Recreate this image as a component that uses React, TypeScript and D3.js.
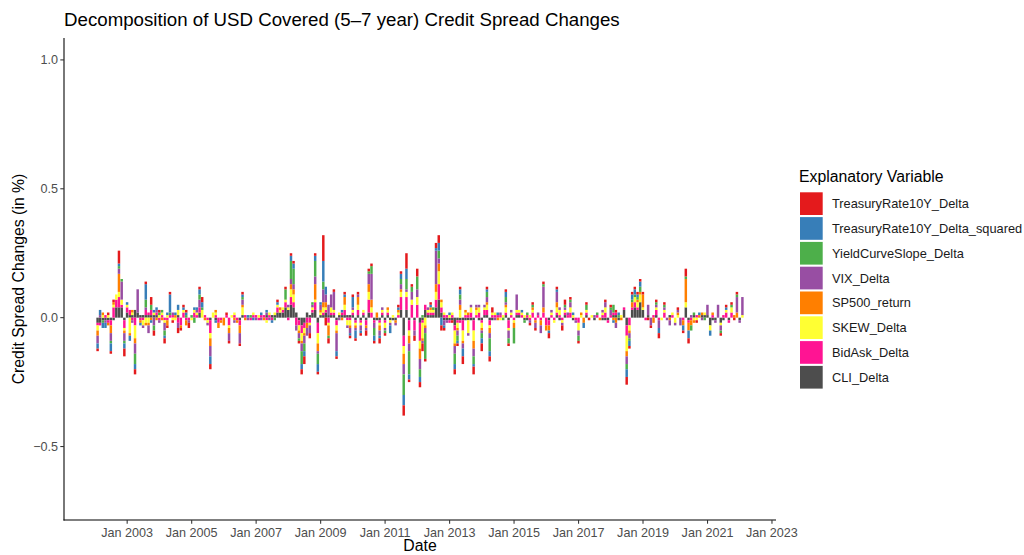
import React from "react";
import * as d3 from "d3";

// Monthly observations, Jan 2002 .. Jan 2022 (one row of 12 per year)
const startYear = 2002;
const startMonth = 0;

// Contributions in hundredths of a percentage point (bp)
const trBp = [
  -1,0,0,0,1,-1,1,0,5,0,-3,0,
  0,0,-2,0,0,0,1,0,3,-2,0,1,
  0,-2,-1,1,-1,0,-2,-1,1,1,-2,0,
  0,0,1,2,0,0,-2,0,0,0,0,0,
  1,-1,0,0,0,-1,1,0,0,0,0,0,
  0,0,0,0,0,0,0,1,0,0,1,0,
  1,1,0,-1,-2,-3,0,-2,0,1,-1,0,
  10,-3,-2,0,1,-1,0,0,1,0,-1,1,
  -1,1,-1,0,-2,1,1,-1,0,-2,0,-1,
  0,0,0,0,1,1,-4,6,-1,1,-2,3,
  -2,-3,-1,0,1,0,2,3,-2,-1,0,0,
  -1,-2,-1,1,-3,0,0,0,-3,0,0,-3,
  0,1,-2,2,0,0,0,0,1,-1,0,0,
  0,0,0,0,0,-1,1,-1,0,0,1,0,
  -2,0,0,1,0,-2,2,0,1,0,0,-1,
  0,0,1,-1,0,0,0,0,0,1,0,1,
  0,1,0,0,0,-3,-1,1,1,1,1,1,
  0,-1,-1,0,1,-2,0,1,0,0,0,0,
  1,0,-1,3,-2,0,0,-1,0,0,0,0,
  0,0,0,0,-1,0,1,0,1,-1,1,0,
  0,
];
const trSqBp = [
  -2,2,-2,-2,0,-3,0,0,1,0,-2,1,
  -2,0,-2,0,-1,0,6,0,-1,1,1,0,
  0,-1,1,7,0,1,2,0,1,1,0,0,
  1,1,2,2,0,0,-3,0,-1,0,0,0,
  0,0,0,0,0,0,1,0,1,0,-1,0,
  0,1,0,1,0,-1,0,1,0,0,0,0,
  2,2,0,0,-2,-2,0,0,0,2,-3,1,
  8,3,0,0,0,-2,0,1,1,0,-1,4,
  -3,0,-1,0,0,0,0,-2,0,-1,0,0,
  0,-3,0,0,1,2,-4,4,-2,0,0,0,
  -2,0,0,0,1,0,1,3,-3,-1,0,1,
  0,-2,-1,2,-3,0,0,0,-1,0,0,-2,
  0,1,-2,0,0,1,0,0,2,0,0,0,
  0,0,1,0,0,0,0,0,0,0,0,0,
  -1,0,0,1,0,0,0,0,0,1,0,0,
  0,-2,0,0,0,0,0,0,0,0,0,0,
  -1,0,1,0,0,-3,-2,2,2,1,2,0,
  0,0,0,0,0,-2,0,0,0,0,0,0,
  0,0,-2,0,-3,0,0,0,1,0,0,0,
  -2,0,0,0,0,0,1,0,0,0,0,0,
  0,
];
const slopeBp = [
  0,0,-1,0,0,-1,0,0,1,1,-1,0,
  0,0,-4,0,0,0,3,0,2,-2,0,1,
  1,-2,0,1,0,0,0,0,0,1,0,1,
  -2,0,2,1,0,0,0,0,0,0,0,0,
  0,0,0,0,0,0,1,0,0,1,0,0,
  0,0,0,0,0,0,-1,0,0,0,4,0,
  7,6,0,-1,-5,-3,0,0,1,6,-4,0,
  3,0,-1,0,0,0,0,0,0,0,0,0,
  0,0,0,0,0,1,3,-3,0,0,0,-1,
  0,0,0,0,0,2,-8,4,-9,2,0,5,
  -3,1,-10,0,0,1,0,3,0,0,0,0,
  0,-4,-2,2,0,0,0,0,-3,0,0,-2,
  0,2,-5,0,0,0,0,-1,2,-2,0,-6,
  0,0,0,-1,1,0,1,0,0,0,1,0,
  0,0,0,0,0,0,1,0,1,0,0,-2,
  0,0,2,0,0,0,1,0,0,0,0,1,
  3,0,1,0,0,-2,-1,1,1,1,2,0,
  0,0,0,0,1,0,0,1,0,0,0,0,
  0,0,0,1,0,-2,1,0,0,0,-1,0,
  0,0,0,0,-1,0,0,0,1,0,1,0,
  0,
];
const vixBp = [
  -3,1,0,-1,0,-3,0,0,2,7,-3,0,
  0,-1,-4,9,0,-1,1,-3,0,-3,1,-1,
  0,-3,0,0,1,0,-2,0,0,0,-1,0,
  0,1,3,0,0,-1,-4,0,0,0,0,0,
  0,-3,0,-1,0,-4,2,0,-1,0,0,-1,
  0,-1,0,1,-1,0,0,0,0,0,0,1,
  2,2,-2,-2,-3,-3,-3,-3,1,3,-1,2,
  5,3,4,5,7,-7,-1,0,0,-1,-2,1,
  -1,1,-2,0,-1,4,10,-2,0,-2,1,-1,
  0,-1,0,-1,0,2,-4,1,-3,3,-2,3,
  -4,-1,-2,1,0,0,13,2,0,-2,-1,0,
  0,-3,-2,2,-2,0,-1,1,-3,1,1,-1,
  1,2,-2,0,-1,0,1,0,1,-3,1,0,
  6,0,0,0,0,-1,0,-2,1,-3,8,0,
  0,1,0,4,1,-1,1,1,2,0,-1,-2,
  0,0,0,0,0,1,0,0,1,2,0,2,
  0,-2,0,0,0,-3,-2,0,0,0,0,0,
  0,4,-3,0,1,-3,0,1,-1,-2,0,-1,
  1,-3,0,0,0,1,0,0,0,-1,0,4,
  0,0,-1,5,-2,0,0,0,0,0,6,-1,
  7,
];
const spBp = [
  -2,0,1,0,-1,-3,1,0,7,0,-1,0,
  -1,1,-2,0,-1,0,-1,-1,-1,0,-1,0,
  -1,0,-2,0,0,1,0,-1,0,-2,0,0,
  0,0,0,0,-1,0,-3,0,1,-2,-1,-3,
  0,-2,0,-1,-1,-3,1,-1,0,0,0,0,
  0,0,-1,0,0,0,0,0,1,0,0,0,
  2,2,0,-1,-1,-1,-2,0,0,6,-3,1,
  2,2,-4,0,0,-1,0,-1,3,0,-1,0,
  -1,3,0,0,-1,3,3,0,2,-2,0,0,
  1,0,0,-1,1,1,-4,0,-3,0,0,0,
  -4,-1,-1,0,1,0,3,3,1,0,0,0,
  0,-1,-1,2,-1,1,1,0,-3,1,0,-1,
  0,1,-2,0,0,-1,0,0,1,0,0,-2,
  0,0,0,0,0,0,1,-1,0,-2,2,-2,
  -2,0,0,2,0,0,0,0,0,0,0,0,
  1,-2,0,0,0,0,0,-1,0,0,0,0,
  -1,-2,0,-1,0,-2,-1,2,0,1,1,5,
  0,0,0,-2,0,0,0,0,0,-1,0,0,
  1,0,-2,9,-3,-2,-1,0,1,1,0,0,
  0,1,0,0,0,0,0,0,0,1,2,0,
  0,
];
const skewBp = [
  -2,0,1,0,1,0,1,2,2,2,-1,1,
  -6,1,-5,0,0,-2,-2,-2,0,1,0,1,
  1,-1,1,0,-1,-1,2,0,1,0,0,-1,
  1,1,0,3,0,-1,-2,2,1,0,0,0,
  0,-1,1,1,0,0,3,0,0,0,1,0,
  1,0,0,-1,1,0,1,1,1,1,1,1,
  3,3,0,-2,-3,-2,0,-1,1,1,-4,1,
  2,1,-1,2,1,-2,1,0,2,-2,-2,1,
  -1,2,-1,1,0,3,2,0,0,-1,1,-2,
  1,-1,1,0,1,2,-3,2,-2,2,0,3,
  -3,-6,-3,1,1,1,3,5,2,1,0,1,
  1,-5,-2,3,-4,1,-5,2,-4,2,2,-2,
  1,2,-1,1,1,0,-1,1,2,-1,1,-1,
  1,1,1,1,0,1,1,0,0,0,0,0,
  0,1,-1,2,2,-1,1,0,2,1,0,-3,
  1,0,1,0,1,0,0,0,1,2,0,0,
  0,0,0,1,0,-6,-2,0,2,2,3,1,
  0,0,0,0,1,0,-1,1,0,0,1,-2,
  1,0,0,2,0,0,-1,-1,0,0,1,0,
  -2,0,0,0,-1,0,1,0,2,0,0,0,
  1,
];
const bidAskBp = [
  -1,-1,0,1,-1,-2,4,3,4,1,-3,2,
  2,-1,-3,0,-1,-1,2,1,2,0,1,-1,
  1,-1,-1,1,1,0,-2,-3,2,-1,-1,0,
  2,1,2,0,1,-1,-5,0,1,-2,-1,0,
  1,-3,0,1,-1,-2,0,1,0,-1,1,1,
  -1,1,1,-1,1,-1,0,2,0,1,2,-1,
  3,2,-3,-2,-3,-2,-2,-2,1,3,-4,0,
  1,1,-2,1,1,-2,0,1,2,-1,-1,1,
  -1,2,-1,1,-2,5,2,-1,0,-1,1,-1,
  1,0,0,0,1,5,-4,5,-4,5,-4,5,
  -7,-1,2,1,1,1,3,6,2,1,1,-1,
  1,-2,-1,-1,-4,1,1,2,-4,1,2,-1,
  2,2,-2,1,1,1,1,0,1,-3,1,-1,
  1,1,1,0,1,-1,2,-1,1,-1,2,-3,
  -2,1,-1,1,1,-1,1,1,2,0,-1,-2,
  0,0,1,0,0,0,1,0,1,2,-1,1,
  1,1,0,0,1,-4,-3,1,2,1,0,0,
  -1,0,0,1,2,-1,0,2,0,0,1,0,
  0,0,-1,0,-1,-1,0,1,0,0,0,0,
  0,1,0,0,0,1,2,-1,2,0,0,0,
  0,
];
const cliBp = [
  -2,-2,-1,-1,-1,-1,-1,4,4,4,-1,2,
  1,1,3,2,1,1,1,1,1,1,1,0,
  0,0,0,0,0,0,1,0,0,0,0,0,
  0,0,2,0,0,0,-1,0,-1,0,0,0,
  0,0,0,0,0,-1,1,0,0,0,0,0,
  0,0,0,1,0,1,1,2,2,2,4,3,
  5,4,2,-1,-3,-2,2,1,2,3,-2,1,
  1,2,1,1,1,-1,1,1,1,1,1,1,
  -1,1,-1,1,-1,2,0,-1,-1,-1,1,-1,
  1,-1,-1,-1,0,3,-7,3,-1,0,-1,0,
  -2,-1,3,1,1,1,4,7,2,-1,-1,-1,
  -1,-3,-1,-1,-1,-1,-1,-1,-1,0,-1,-1,
  1,1,-1,-1,0,0,0,0,1,-1,0,0,
  1,1,0,-1,-1,0,0,0,0,0,0,0,
  -1,0,0,1,-1,0,1,0,0,-1,0,0,
  0,0,1,0,0,-1,0,0,-1,-1,-1,0,
  1,1,-1,0,3,-3,0,3,4,3,6,3,
  0,1,0,0,1,0,0,0,0,1,0,0,
  0,0,0,4,-1,0,1,0,0,1,1,1,
  -3,-1,-1,0,-2,-1,0,-1,0,0,0,-1,
  0,
];

const seriesNames = [
  "TreasuryRate10Y_Delta",
  "TreasuryRate10Y_Delta_squared",
  "YieldCurveSlope_Delta",
  "VIX_Delta",
  "SP500_return",
  "SKEW_Delta",
  "BidAsk_Delta",
  "CLI_Delta",
];
const seriesColors = [
  "#E41A1C",
  "#377EB8",
  "#4DAF4A",
  "#984EA3",
  "#FF7F00",
  "#FFFF33",
  "#FF1493",
  "#4D4D4D",
];
const seriesValues = [trBp, trSqBp, slopeBp, vixBp, spBp, skewBp, bidAskBp, cliBp];

const yTicks = [-0.5, 0, 0.5, 1.0];
const xTickYears = [2003, 2005, 2007, 2009, 2011, 2013, 2015, 2017, 2019, 2021, 2023];
const yLimits = [-0.7, 1.0];

const W = 1024;
const H = 555;
const panel = { left: 64, right: 776, top: 38, bottom: 520 };
const FONT = "'Liberation Sans', Arial, Helvetica, sans-serif";

export default function App() {
  const n = trBp.length;
  const dates = d3.range(n).map((i) => new Date(startYear, startMonth + i + 1, 0));

  const rows = dates.map((date, i) => {
    const r: any = { date };
    seriesNames.forEach((name, k) => {
      r[name] = seriesValues[k][i] / 100;
    });
    return r;
  });

  // stacking: CLI nearest zero, TreasuryRate10Y_Delta outermost (ggplot order)
  const stackKeys = [...seriesNames].reverse();
  const stacked = d3
    .stack<any>()
    .keys(stackKeys)
    .offset(d3.stackOffsetDiverging)(rows);

  const dayMs = 24 * 3600 * 1000;
  const barDays = 28;
  const minD = d3.min(dates)!.getTime() - (barDays / 2) * dayMs;
  const maxD = d3.max(dates)!.getTime() + (barDays / 2) * dayMs;
  const padX = (maxD - minD) * 0.05;
  const x = d3
    .scaleTime()
    .domain([new Date(minD - padX), new Date(maxD + padX)])
    .range([panel.left, panel.right]);
  const barW = x(new Date(minD + barDays * dayMs)) - x(new Date(minD));

  const padY = (yLimits[1] - yLimits[0]) * 0.05;
  const y = d3
    .scaleLinear()
    .domain([yLimits[0] - padY, yLimits[1] + padY])
    .range([panel.bottom, panel.top]);

  const fmtY = (v: number) => (v < 0 ? "\u2212" + Math.abs(v).toFixed(1) : v.toFixed(1));

  return (
    <svg
      width={W}
      height={H}
      style={{ position: "absolute", left: 0, top: 0, display: "block", background: "#fff" }}
      fontFamily={FONT}
    >
      <rect x={0} y={0} width={W} height={H} fill="#fff" />
      <text x={64} y={26} fontSize={18.7} fill="#000">
        Decomposition of USD Covered (5–7 year) Credit Spread Changes
      </text>

      <g>
        {stacked.map((layer) => {
          const color = seriesColors[seriesNames.indexOf(layer.key)];
          return (
            <g key={layer.key} fill={color}>
              {layer.map((d, i) => {
                if (d[0] === d[1]) return null;
                const y0 = y(d[0]);
                const y1 = y(d[1]);
                return (
                  <rect
                    key={i}
                    x={x(dates[i]) - barW / 2}
                    y={Math.min(y0, y1)}
                    width={barW}
                    height={Math.abs(y1 - y0)}
                  />
                );
              })}
            </g>
          );
        })}
      </g>

      {/* axes */}
      <line x1={panel.left} x2={panel.left} y1={panel.top} y2={panel.bottom + 0.5} stroke="#000" strokeWidth={1.07} />
      <line x1={panel.left - 0.5} x2={panel.right} y1={panel.bottom} y2={panel.bottom} stroke="#000" strokeWidth={1.07} />

      {yTicks.map((t) => (
        <g key={t}>
          <line x1={panel.left - 3.7} x2={panel.left} y1={y(t)} y2={y(t)} stroke="#333" strokeWidth={1.07} />
          <text x={panel.left - 6} y={y(t)} dy="0.35em" textAnchor="end" fontSize={12.6} fill="#4D4D4D">
            {fmtY(t)}
          </text>
        </g>
      ))}

      {xTickYears.map((yr) => {
        const px = x(new Date(yr, 0, 1));
        return (
          <g key={yr}>
            <line x1={px} x2={px} y1={panel.bottom} y2={panel.bottom + 3.7} stroke="#333" strokeWidth={1.07} />
            <text x={px} y={537} textAnchor="middle" fontSize={12.6} fill="#4D4D4D">
              {"Jan " + yr}
            </text>
          </g>
        );
      })}

      <text x={(panel.left + panel.right) / 2} y={551} textAnchor="middle" fontSize={15.8} fill="#000">
        Date
      </text>
      <text
        transform={`translate(24, ${(panel.top + panel.bottom) / 2}) rotate(-90)`}
        textAnchor="middle"
        fontSize={15.8}
        fill="#000"
      >
        Credit Spread Changes (in %)
      </text>

      {/* legend */}
      <text x={799} y={182} fontSize={15.8} fill="#000">
        Explanatory Variable
      </text>
      {seriesNames.map((name, i) => (
        <g key={name}>
          <rect x={800} y={192.3 + i * 24.8} width={22.7} height={22.7} fill={seriesColors[i]} />
          <text x={832} y={192.3 + i * 24.8 + 11.4} dy="0.35em" fontSize={12.8} fill="#1a1a1a">
            {name}
          </text>
        </g>
      ))}
    </svg>
  );
}
